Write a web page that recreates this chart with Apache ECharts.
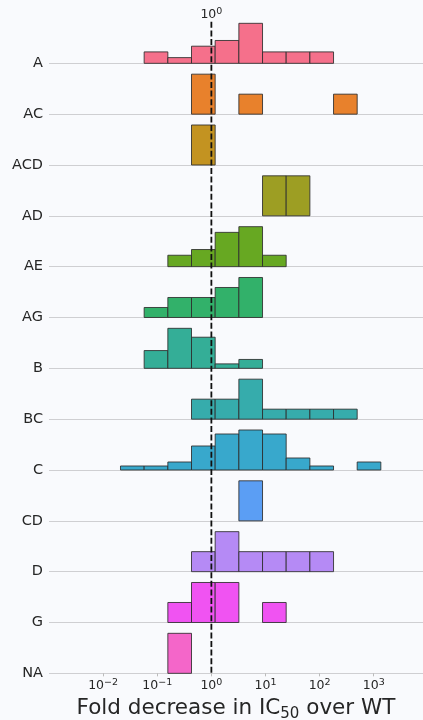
<!DOCTYPE html>
<html>
<head>
<meta charset="utf-8">
<script src="https://cdn.jsdelivr.net/npm/echarts@6/dist/echarts.min.js"></script>
<style>
  html, body { margin: 0; padding: 0; background: #f9fafd; }
  #chart { width: 423px; height: 720px; }
</style>
</head>
<body>
<div id="chart"></div>
<script>
// Groups, one histogram row each (top to bottom)
const categories = ['A', 'AC', 'ACD', 'AD', 'AE', 'AG', 'B', 'BC', 'C', 'CD', 'D', 'G', 'NA'];

// Shared histogram bin edges, as log10 of the fold decrease
const binEdges = [-1.679, -1.242, -0.804, -0.367, 0.070, 0.508, 0.945, 1.382, 1.820, 2.257, 2.694, 3.131];

// Counts per bin for every group
const countsA   = [0, 2, 1, 3, 4, 7, 2, 2, 2, 0, 0];
const countsAC  = [0, 0, 0, 2, 0, 1, 0, 0, 0, 1, 0];
const countsACD = [0, 0, 0, 1, 0, 0, 0, 0, 0, 0, 0];
const countsAD  = [0, 0, 0, 0, 0, 0, 1, 1, 0, 0, 0];
const countsAE  = [0, 0, 2, 3, 6, 7, 2, 0, 0, 0, 0];
const countsAG  = [0, 1, 2, 2, 3, 4, 0, 0, 0, 0, 0];
const countsB   = [0, 4, 9, 7, 1, 2, 0, 0, 0, 0, 0];
const countsBC  = [0, 0, 0, 2, 2, 4, 1, 1, 1, 1, 0];
const countsC   = [1, 1, 2, 6, 9, 10, 9, 3, 1, 0, 2];
const countsCD  = [0, 0, 0, 0, 0, 1, 0, 0, 0, 0, 0];
const countsD   = [0, 0, 0, 1, 2, 1, 1, 1, 1, 0, 0];
const countsG   = [0, 0, 1, 2, 2, 0, 1, 0, 0, 0, 0];
const countsNA  = [0, 0, 1, 0, 0, 0, 0, 0, 0, 0, 0];

// Decades shown as tick labels on the fold axis (log10)
const tickExponents = [-2, -1, 0, 1, 2, 3];
// Reference fold change (no change vs WT), log10
const referenceExponent = 0;

const groupCounts = [countsA, countsAC, countsACD, countsAD, countsAE, countsAG, countsB,
                     countsBC, countsC, countsCD, countsD, countsG, countsNA];

const palette = ['#f5708b', '#e8812c', '#c39321', '#9d9e23', '#67a822', '#32b16a', '#34ae97',
                 '#36acac', '#38a8cc', '#5b9ef4', '#b58af5', '#f053f2', '#f466c9'];

// Each row is scaled to its own tallest bin
const ROW_FILL = 0.787;

const barData = [];
groupCounts.forEach(function (counts, g) {
  const peak = Math.max.apply(null, counts);
  counts.forEach(function (c, i) {
    if (c > 0) {
      barData.push([binEdges[i], binEdges[i + 1], g + 1, c / peak]);
    }
  });
});

const FONT = "'DejaVu Sans', 'Liberation Sans', sans-serif";
const TEXT = '#262626';

function powerLabel(v) {
  const e = Math.round(v);
  if (Math.abs(v - e) > 1e-6 || tickExponents.indexOf(e) < 0) return '';
  return '{b|10}{s|' + String(e).replace('-', '\u2212') + '}';
}

const powerRich = {
  b: { fontSize: 12.5, fontFamily: FONT, color: TEXT, lineHeight: 17 },
  s: { fontSize: 9.5, fontFamily: FONT, color: TEXT, lineHeight: 10, verticalAlign: 'top' }
};

const chart = echarts.init(document.getElementById('chart'), null, { renderer: 'canvas' });

chart.setOption({
  backgroundColor: '#f9fafd',
  animation: false,
  grid: { left: 49, right: 0, top: 12.5, bottom: 46.67, containLabel: false, outerBoundsMode: 'none' },
  xAxis: [
    {
      type: 'value',
      min: -3,
      max: 3.91,
      interval: 1,
      axisLine: { show: false },
      axisTick: { show: true, length: 3, lineStyle: { color: '#bbbbbb' } },
      splitLine: { show: false },
      axisLabel: { margin: 4, formatter: powerLabel, rich: powerRich, showMinLabel: false, showMaxLabel: false },
      name: '{t|Fold decrease in IC}{s|50}{t| over WT}',
      nameLocation: 'middle',
      nameGap: 17,
      nameTextStyle: {
        rich: {
          t: { fontSize: 21.5, fontFamily: FONT, color: TEXT, lineHeight: 26 },
          s: { fontSize: 15, fontFamily: FONT, color: TEXT, lineHeight: 16, verticalAlign: 'bottom' }
        }
      }
    },
    {
      type: 'value',
      position: 'top',
      offset: -12,
      min: -3,
      max: 3.91,
      interval: 1,
      axisLine: { show: false },
      axisTick: { show: false },
      splitLine: { show: false },
      axisLabel: {
        margin: 1,
        formatter: function (v) { return Math.abs(v - referenceExponent) < 1e-6 ? powerLabel(v) : ''; },
        rich: powerRich
      }
    }
  ],
  yAxis: {
    type: 'category',
    inverse: true,
    boundaryGap: false,
    data: [''].concat(categories),
    axisLine: { show: false },
    axisTick: { show: false },
    axisLabel: { fontSize: 14.5, fontFamily: FONT, color: TEXT, margin: 6, padding: [4, 0, 0, 0] },
    splitLine: {
      show: true,
      interval: function (index, value) { return value !== ''; },
      lineStyle: { color: '#cfcfd2', width: 1 }
    }
  },
  series: [
    {
      type: 'custom',
      name: 'bins',
      xAxisIndex: 0,
      encode: { x: [0, 1], y: 2 },
      data: barData,
      z: 2,
      renderItem: function (params, api) {
        const x0 = api.value(0), x1 = api.value(1), row = api.value(2), frac = api.value(3);
        const base = api.coord([x0, row]);
        const right = api.coord([x1, row]);
        const above = api.coord([x0, row - 1]);
        const band = base[1] - above[1];
        const h = band * ROW_FILL * frac;
        return {
          type: 'rect',
          shape: { x: base[0], y: base[1] - h, width: right[0] - base[0], height: h },
          style: { fill: palette[row - 1], stroke: 'rgba(45,45,45,0.85)', lineWidth: 1 }
        };
      }
    },
    {
      type: 'custom',
      name: 'reference',
      xAxisIndex: 0,
      encode: { x: 0, y: 1 },
      data: [[referenceExponent, 1]],
      z: 5,
      renderItem: function (params, api) {
        const x = api.value(0);
        const first = api.coord([x, 1]);
        const last = api.coord([x, categories.length]);
        const band = (last[1] - first[1]) / (categories.length - 1);
        return {
          type: 'line',
          shape: { x1: first[0], y1: first[1] - band * 0.817, x2: last[0], y2: last[1] },
          style: { stroke: '#111111', lineWidth: 1.8, lineDash: [6, 2.6] }
        };
      }
    }
  ]
});
</script>
</body>
</html>
